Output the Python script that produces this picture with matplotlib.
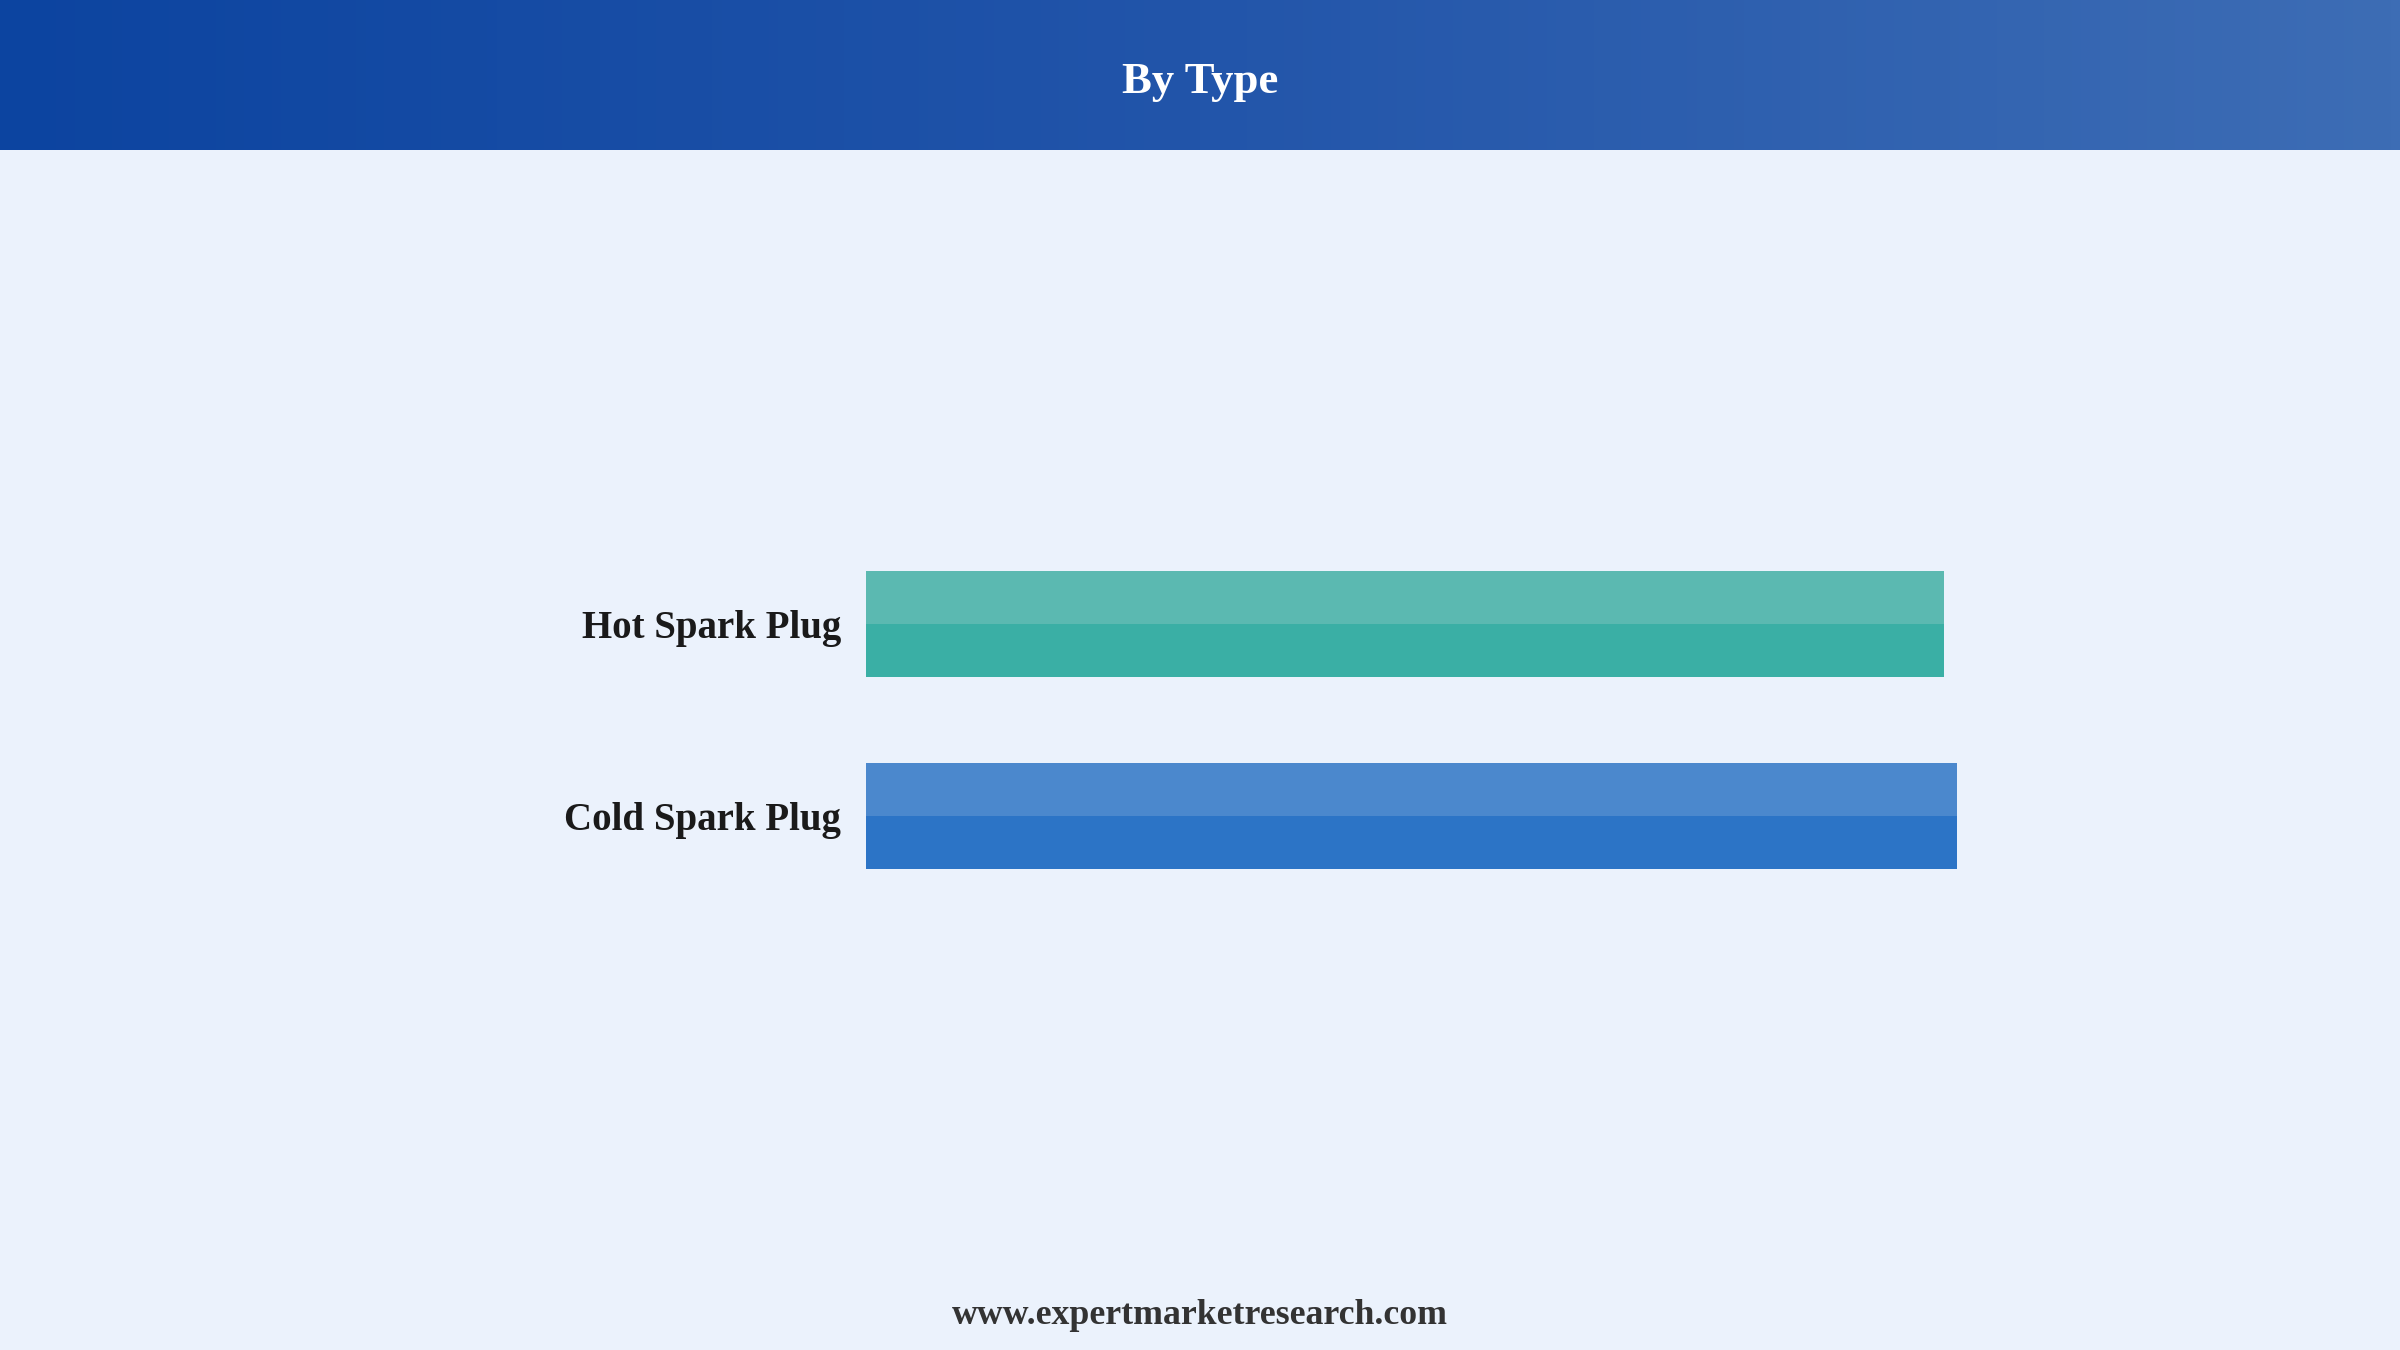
import numpy as np
import matplotlib
matplotlib.use("Agg")
import matplotlib.pyplot as plt
from matplotlib.colors import LinearSegmentedColormap

categories = ["Hot Spark Plug", "Cold Spark Plug"]
values = [49.7, 50.3]
colors_bottom = ["#3AAFA5", "#2C74C6"]
colors_top = ["#5BB9B1", "#4B88CD"]
title = "By Type"
footer = "www.expertmarketresearch.com"

W, H, DPI = 2400, 1350, 200
fig = plt.figure(figsize=(W / DPI, H / DPI), dpi=DPI)
fig.patch.set_facecolor("#EBF2FC")
serif = ["Liberation Serif", "DejaVu Serif"]

# Header gradient
hax = fig.add_axes([0, 1 - 150 / H, 1, 150 / H])
cmap = LinearSegmentedColormap.from_list("hdr", ["#0C44A0", "#2255AA", "#3D6DB5"])
grad = np.linspace(0, 1, 512).reshape(1, -1)
hax.imshow(grad, aspect="auto", cmap=cmap, extent=[0, 1, 0, 1])
hax.set_axis_off()
hax.text(0.5, 0.45, title, ha="center", va="center", color="white",
         fontsize=16.1, fontweight="bold", family=serif, transform=hax.transAxes)

# Bars axes
left_px, right_px = 866, 1957
top_px, bot_px = 500, 940
ax = fig.add_axes([left_px / W, 1 - bot_px / H, (right_px - left_px) / W, (bot_px - top_px) / H])
ax.set_facecolor("none")
y = np.arange(len(categories))
h = 0.557
ax.barh(y, values, height=h, color=colors_bottom, edgecolor="none")
ax.barh(y - h / 4, values, height=h / 2, color=colors_top, edgecolor="none")
ax.set_xlim(0, max(values))
ax.set_ylim(1.6458, -0.6458)
for s in ax.spines.values():
    s.set_visible(False)
ax.set_xticks([])
ax.set_yticks(y)
ax.set_yticklabels(categories, fontsize=14.0, fontweight="bold", family=serif, color="#1A1A1A")
ax.tick_params(axis="y", length=0, pad=9)

fig.text(0.5, 1 - 1316 / H, footer, ha="center", va="center", fontsize=12.9,
         fontweight="bold", family=serif, color="#333333")

fig.savefig("out.png", dpi=DPI, facecolor=fig.get_facecolor())
